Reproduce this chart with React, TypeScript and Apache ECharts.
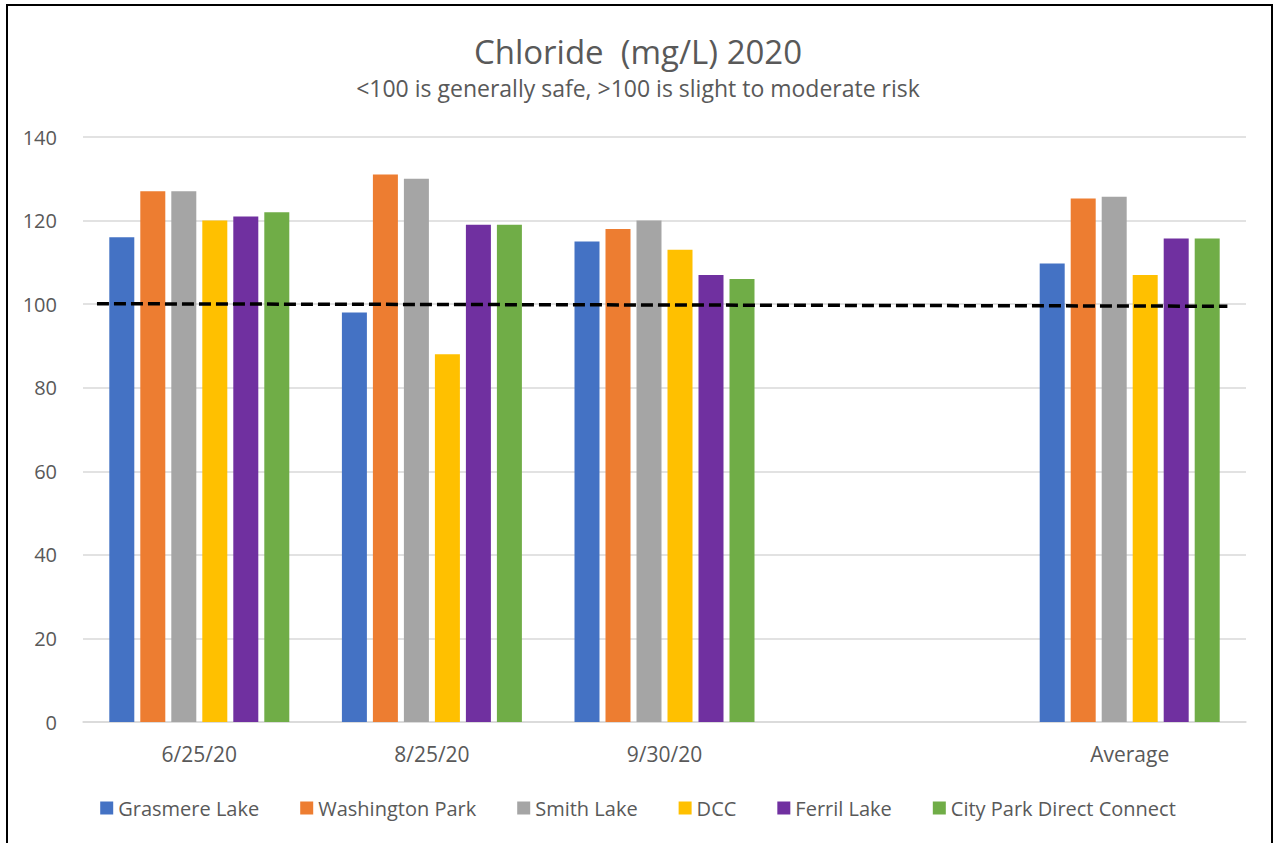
import React, { useEffect, useRef } from "react";
import * as echarts from "echarts";

const categories = ["6/25/20", "8/25/20", "9/30/20", "", "Average"];

const seriesNames = [
  "Grasmere Lake",
  "Washington Park",
  "Smith Lake",
  "DCC",
  "Ferril Lake",
  "City Park Direct Connect",
];

const colors = ["#4472C4", "#ED7D31", "#A5A5A5", "#FFC000", "#7030A0", "#70AD47"];

const grasmere = [116, 98, 115, null, 109.7];
const washington = [127, 131, 118, null, 125.3];
const smith = [127, 130, 120, null, 125.7];
const dcc = [120, 88, 113, null, 107];
const ferril = [121, 119, 107, null, 115.7];
const cityPark = [122, 119, 106, null, 115.7];

const seriesValues = [grasmere, washington, smith, dcc, ferril, cityPark];

// Threshold guide (100 mg/L), positioned on a hidden 0..5 value axis
const thresholdLine: [number, number][] = [
  [0.06, 100.1],
  [4.92, 99.5],
];

const yTicks = { min: 0, max: 140, interval: 20 };

const FONT = "'Open Sans', sans-serif";
const TEXT = "#595959";
const GRID = "#D9D9D9";

export default function App() {
  const ref = useRef<HTMLDivElement>(null);

  useEffect(() => {
    if (!ref.current) return;
    const chart = echarts.init(ref.current, null, { renderer: "svg" });
    chart.setOption({
      animation: false,
      backgroundColor: "#fff",
      textStyle: { fontFamily: FONT },
      title: {
        text: "Chloride  (mg/L) 2020",
        subtext: "<100 is generally safe, >100 is slight to moderate risk",
        left: "center",
        top: 30,
        itemGap: 8,
        textStyle: { fontFamily: FONT, fontSize: 33, fontWeight: "normal", color: TEXT },
        subtextStyle: { fontFamily: FONT, fontSize: 23, color: TEXT },
      },
      legend: {
        data: seriesNames,
        top: 793,
        left: "center",
        itemWidth: 13,
        itemHeight: 13,
        itemGap: 41,
        icon: "rect",
        textStyle: { fontFamily: FONT, fontSize: 20, color: TEXT },
      },
      grid: { left: 83, right: 30, top: 137, bottom: 121 },
      xAxis: [
        {
          type: "category",
          data: categories,
          axisTick: { show: false },
          axisLine: { lineStyle: { color: GRID, width: 1.5 } },
          axisLabel: { fontFamily: FONT, fontSize: 21, color: TEXT, margin: 21 },
        },
        { type: "value", min: 0, max: 5, show: false },
      ],
      yAxis: {
        type: "value",
        min: yTicks.min,
        max: yTicks.max,
        interval: yTicks.interval,
        axisLine: { show: false },
        axisTick: { show: false },
        splitLine: { lineStyle: { color: GRID, width: 1.5 } },
        axisLabel: { fontFamily: FONT, fontSize: 20, color: TEXT, margin: 26 },
      },
      series: [
        ...seriesNames.map((name, i) => ({
          name,
          type: "bar",
          data: seriesValues[i],
          barWidth: 25,
          barGap: "24%",
          itemStyle: { color: colors[i] },
        })),
        {
          name: "threshold",
          type: "line",
          xAxisIndex: 1,
          data: thresholdLine,
          symbol: "none",
          silent: true,
          z: 10,
          lineStyle: { color: "#000", width: 3.5, type: [12, 5] },
        },
      ],
    });
    return () => chart.dispose();
  }, []);

  return (
    <div style={{ position: "fixed", left: 0, top: 0, width: 1276, height: 843 }}>
      <div ref={ref} style={{ position: "absolute", left: 0, top: 0, width: 1276, height: 843 }} />
      <div
        style={{
          position: "absolute",
          left: 6,
          top: 4,
          width: 1267,
          height: 900,
          border: "2px solid #000",
          boxSizing: "border-box",
          pointerEvents: "none",
        }}
      />
    </div>
  );
}
